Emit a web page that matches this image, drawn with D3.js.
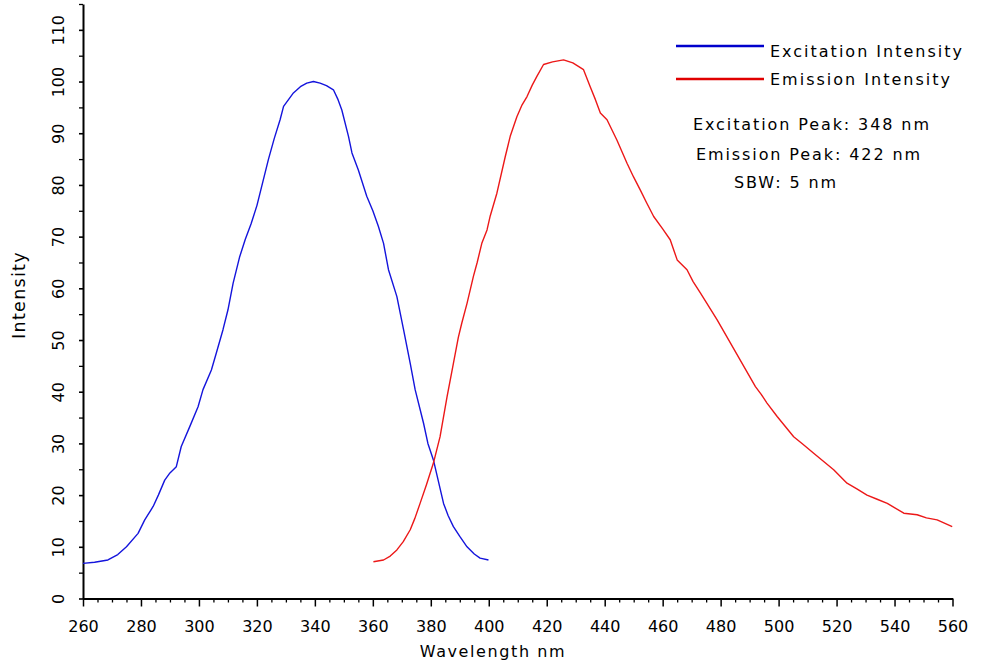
<!DOCTYPE html>
<html>
<head>
<meta charset="utf-8">
<script src="https://cdn.jsdelivr.net/npm/d3@7"></script>
<style>
  html, body { margin: 0; padding: 0; background: #fff; }
  svg { display: block; font-family: "DejaVu Sans", Verdana, sans-serif; }
</style>
</head>
<body>
<svg id="chart" width="982" height="664"></svg>
<script>
// ---------- data ----------
const excWavelength = [260,264,268.6,272,275,279,281.3,284.2,286,288.2,290,292.2,293.9,296.8,299.7,301.4,304.3,306,308.3,310,311.8,314,316,318,320,322,324,326,328,329.2,332.6,335,337.2,339.5,341.8,344,346.4,348,349.3,351.6,352.8,355,357.9,360,361.9,363.7,365.4,368.3,370.6,372.9,374.6,377.5,379,380.9,384.4,386,387.8,390,392.5,395,397,399.9];
const excIntensity  = [6.8,7.0,7.45,8.5,10,12.6,15.2,17.8,20,22.9,24.3,25.5,29.4,33.2,37.1,40.4,44.2,47.5,52,55.8,61,66,69.5,72.5,76,80.5,85,89,92.6,95.2,97.8,99,99.7,100,99.7,99.2,98.4,96.5,94.5,89.4,86.2,82.9,77.8,75,72,68.7,63.6,58.4,52,45.5,40.4,33.9,30,26.8,18.4,16,13.9,12,10,8.6,7.8,7.45];

const emWavelength = [360.2,363.7,366,368.3,370.5,372.9,374.5,376.3,378.5,380.9,383.2,385.6,387.8,389.5,390.7,392.5,394.7,396,397.6,399.4,400.5,402.8,405.7,407.4,409.7,411.5,413.2,415,416.6,418.9,422,425.8,429,432.7,435,436.8,438.5,440.8,444.2,447.7,450,452.3,454.5,456.9,460,462.6,465,468.4,470.5,473,478.8,483.4,488,492,494,496,499.5,505.2,508.5,512.1,519,523.6,527,530.5,534,537.5,543.2,547.8,551,554.7,559.9];
const emIntensity  = [7.1,7.45,8.2,9.4,11,13.3,15.5,18.4,22,26.2,31.3,39,45.5,50.5,53.3,57.1,62.3,65,68.7,71.3,74,78.4,85.5,89.4,93.2,95.5,97.1,99.3,101,103.3,103.8,104.2,103.6,102.3,99,96.5,93.9,92.6,88.7,84.2,81.5,79,76.5,73.9,71.5,69.4,65.5,63.6,61.3,59.1,53.9,49.4,44.9,41,39.5,37.8,35.2,31.3,29.8,28.1,24.9,22.3,21.2,20,19.2,18.4,16.5,16.2,15.6,15.2,13.9];

const xMajorTicks = [260,280,300,320,340,360,380,400,420,440,460,480,500,520,540,560];
const yMajorTicks = [0,10,20,30,40,50,60,70,80,90,100,110];
const seriesNames = ["Excitation Intensity", "Emission Intensity"];
const seriesColors = ["#1414dc", "#ec1818"];
const legendColors = ["#0000cc", "#e00000"];
const annotations = ["Excitation Peak: 348 nm", "Emission Peak: 422 nm", "SBW: 5 nm"];
const xTitle = "Wavelength nm";
const yTitle = "Intensity";

// ---------- drawing ----------
const svg = d3.select("#chart");
const x = d3.scaleLinear().domain([260, 560]).range([83, 952.5]);
const y = d3.scaleLinear().domain([0, 115]).range([598.5, 4]);

const xMinor = d3.range(260, 561, 5).filter(v => v % 20 !== 0);
const yMinor = d3.range(5, 116, 10);

// minor x ticks
svg.append("g").attr("transform", `translate(0,${y(0)})`)
  .call(d3.axisBottom(x).tickValues(xMinor).tickSize(4).tickSizeOuter(0).tickFormat(""))
  .call(g => g.select(".domain").remove())
  .call(g => g.selectAll("line").attr("stroke", "#000").attr("stroke-width", 1.3));

// major x axis
svg.append("g").attr("transform", `translate(0,${y(0)})`)
  .call(d3.axisBottom(x).tickValues(xMajorTicks).tickSize(8).tickSizeOuter(0))
  .call(g => g.select(".domain").attr("stroke", "#000").attr("stroke-width", 2))
  .call(g => g.selectAll("line").attr("stroke", "#000").attr("stroke-width", 1.5))
  .call(g => g.selectAll("text").attr("y", 33).attr("dy", 0)
    .attr("font-size", 16).attr("font-family", "DejaVu Sans").attr("fill", "#000"));

// minor y ticks
svg.append("g").attr("transform", `translate(${x(260)},0)`)
  .call(d3.axisLeft(y).tickValues(yMinor).tickSize(4).tickSizeOuter(0).tickFormat(""))
  .call(g => g.select(".domain").remove())
  .call(g => g.selectAll("line").attr("stroke", "#000").attr("stroke-width", 1.3));

// major y axis
svg.append("g").attr("transform", `translate(${x(260)},0)`)
  .call(d3.axisLeft(y).tickValues(yMajorTicks).tickSize(4).tickSizeOuter(0))
  .call(g => g.select(".domain").attr("stroke", "#000").attr("stroke-width", 2))
  .call(g => g.selectAll("line").attr("stroke", "#000").attr("stroke-width", 1.6))
  .call(g => g.selectAll("text")
    .attr("x", 0).attr("dy", 0).attr("text-anchor", "middle")
    .attr("transform", "translate(-19,0) rotate(-90)")
    .attr("font-size", 16).attr("font-family", "DejaVu Sans").attr("fill", "#000"));

// lines
const line = d3.line().x(d => x(d[0])).y(d => y(d[1]));
const series = [
  d3.zip(excWavelength, excIntensity),
  d3.zip(emWavelength, emIntensity)
];
series.forEach((s, i) => {
  svg.append("path").datum(s)
    .attr("d", line)
    .attr("fill", "none")
    .attr("stroke", seriesColors[i])
    .attr("stroke-width", 1.4)
    .attr("stroke-linejoin", "round");
});

// axis titles
svg.append("text").attr("x", 493).attr("y", 657).attr("text-anchor", "middle")
  .attr("font-size", 16).attr("letter-spacing", "1.6px").text(xTitle);
svg.append("text").attr("transform", "translate(25,295) rotate(-90)").attr("text-anchor", "middle")
  .attr("font-size", 17.5).attr("letter-spacing", "1.3px").text(yTitle);

// legend
const legendY = [46, 79];
const legendBase = [56.5, 85];
seriesNames.forEach((name, i) => {
  svg.append("line").attr("x1", 676).attr("x2", 764)
    .attr("y1", legendY[i]).attr("y2", legendY[i])
    .attr("stroke", legendColors[i]).attr("stroke-width", 2.6);
  svg.append("text").attr("x", 770).attr("y", legendBase[i])
    .attr("font-size", 16).attr("letter-spacing", "2px").text(name);
});

// annotations
const annX = [693, 696, 734];
const annY = [130, 160, 188];
annotations.forEach((t, i) => {
  svg.append("text").attr("x", annX[i]).attr("y", annY[i])
    .attr("font-size", 16).attr("letter-spacing", "1.9px").text(t);
});
</script>
</body>
</html>
